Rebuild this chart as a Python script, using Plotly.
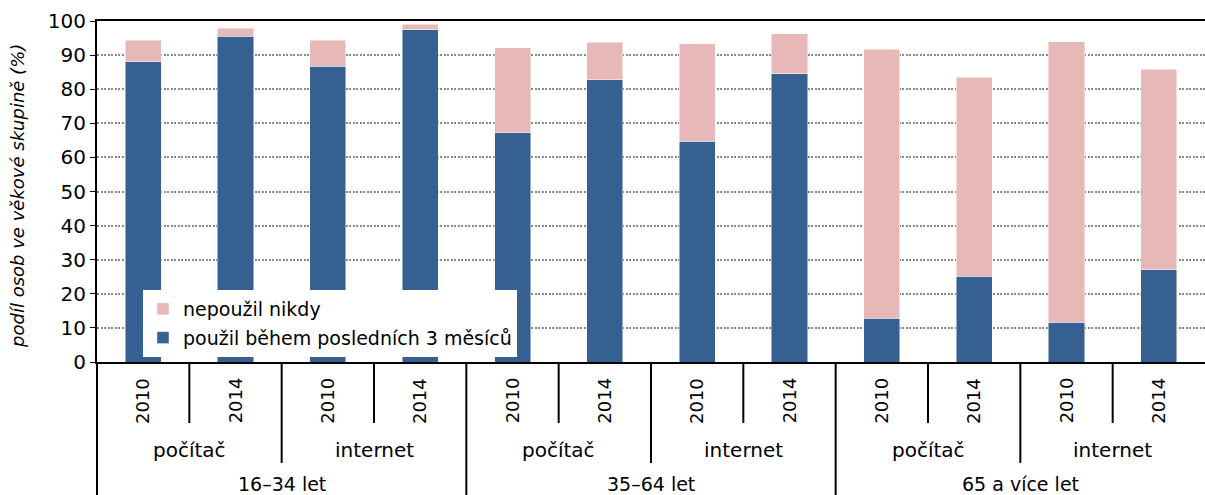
import plotly.graph_objects as go

# ---- data ----
age_groups = ["16–34 let", "35–64 let", "65 a více let"]
devices = ["počítač", "internet"]
years = ["2010", "2014"]

used_last_3m = [88.0, 95.6, 86.8, 97.4, 67.2, 82.7, 64.8, 84.5, 12.9, 25.2, 11.7, 27.0]
never_used = [6.4, 2.3, 7.6, 1.7, 24.9, 11.1, 28.6, 11.8, 78.8, 58.3, 82.2, 58.8]

series_names = ["použil během posledních 3 měsíců", "nepoužil nikdy"]
y_title = "podíl osob ve věkové skupině (%)"
y_ticks = [0, 10, 20, 30, 40, 50, 60, 70, 80, 90, 100]

# ---- build categories ----
cat_age, cat_dev, cat_year = [], [], []
for a in age_groups:
    for d in devices:
        for y in years:
            cat_age.append(a)
            cat_dev.append(d)
            cat_year.append(y)
n = len(cat_year)
xs = list(range(n))

FONT = "DejaVu Sans"
BLUE = "#366092"
PINK = "#E6B8B7"

fig = go.Figure()
fig.add_trace(go.Bar(x=xs, y=used_last_3m, name=series_names[0], marker_color=BLUE,
                     legendgroup="a", legendrank=2,
                     marker_line=dict(width=0.8, color="rgba(255,255,255,0.6)"), width=0.39))
fig.add_trace(go.Bar(x=xs, y=never_used, name=series_names[1], marker_color=PINK,
                     legendgroup="b", legendrank=1,
                     marker_line=dict(width=0.8, color="rgba(255,255,255,0.6)"), width=0.39))

annotations = []
shapes = []

# year labels
for i, y in enumerate(cat_year):
    annotations.append(dict(x=i, xref="x", y=-0.114, yref="paper", text=y, textangle=-90,
                            showarrow=False, xanchor="center", yanchor="middle",
                            font=dict(family=FONT, size=18, color="black")))
# device labels
i = 0
while i < n:
    j = i
    while j + 1 < n and cat_dev[j + 1] == cat_dev[i] and cat_age[j + 1] == cat_age[i]:
        j += 1
    annotations.append(dict(x=(i + j) / 2, xref="x", y=-0.258, yref="paper", text=cat_dev[i],
                            showarrow=False, xanchor="center", yanchor="middle",
                            font=dict(family=FONT, size=20, color="black")))
    i = j + 1
# age labels
i = 0
while i < n:
    j = i
    while j + 1 < n and cat_age[j + 1] == cat_age[i]:
        j += 1
    annotations.append(dict(x=(i + j) / 2, xref="x", y=-0.358, yref="paper", text=cat_age[i],
                            showarrow=False, xanchor="center", yanchor="middle",
                            font=dict(family=FONT, size=19, color="black")))
    i = j + 1

# separators
for k in range(n):
    if k == 0 or cat_age[k] != cat_age[k - 1]:
        bottom = -0.5
    elif cat_dev[k] != cat_dev[k - 1]:
        bottom = -0.296
    else:
        bottom = -0.179
    xp = k / n
    shapes.append(dict(type="line", xref="paper", yref="paper", x0=xp, x1=xp, y0=0, y1=bottom,
                       line=dict(color="black", width=2)))

# y title
annotations.append(dict(x=-0.0713, xref="paper", y=0.487, yref="paper", text=y_title,
                        textangle=-90, showarrow=False, xanchor="center", yanchor="middle",
                        font=dict(family=FONT, size=18, color="black", style="italic")))

fig.update_layout(
    barmode="stack",
    width=1205, height=495,
    margin=dict(l=97, r=0, t=21, b=133),
    paper_bgcolor="white", plot_bgcolor="white",
    font=dict(family=FONT, size=20, color="black"),
    showlegend=True,
    legend=dict(x=0.0415, y=0.211, xanchor="left", yanchor="top", bgcolor="white",
                traceorder="grouped", tracegroupgap=1,
                font=dict(family=FONT, size=19, color="black"),
                itemwidth=30, borderwidth=0),
    annotations=annotations,
    shapes=shapes,
    bargap=0.6,
)
fig.update_xaxes(range=[-0.5, n - 0.5], showticklabels=False, ticks="", showgrid=False,
                 showline=True, linecolor="black", linewidth=2, mirror=True, zeroline=False)
fig.update_yaxes(range=[0, 100], tickvals=y_ticks, ticks="outside", ticklen=5, tickcolor="black",
                 tickwidth=1, showgrid=True, gridcolor="#8a8a8a", gridwidth=1.5, griddash="2px,1.5px",
                 showline=True, linecolor="black", linewidth=2, zeroline=False,
                 tickfont=dict(family=FONT, size=20, color="black"))

fig.write_html("out.html", config={"displayModeBar": False},
               post_script="document.body.style.margin='0';document.body.style.overflow='hidden';")
